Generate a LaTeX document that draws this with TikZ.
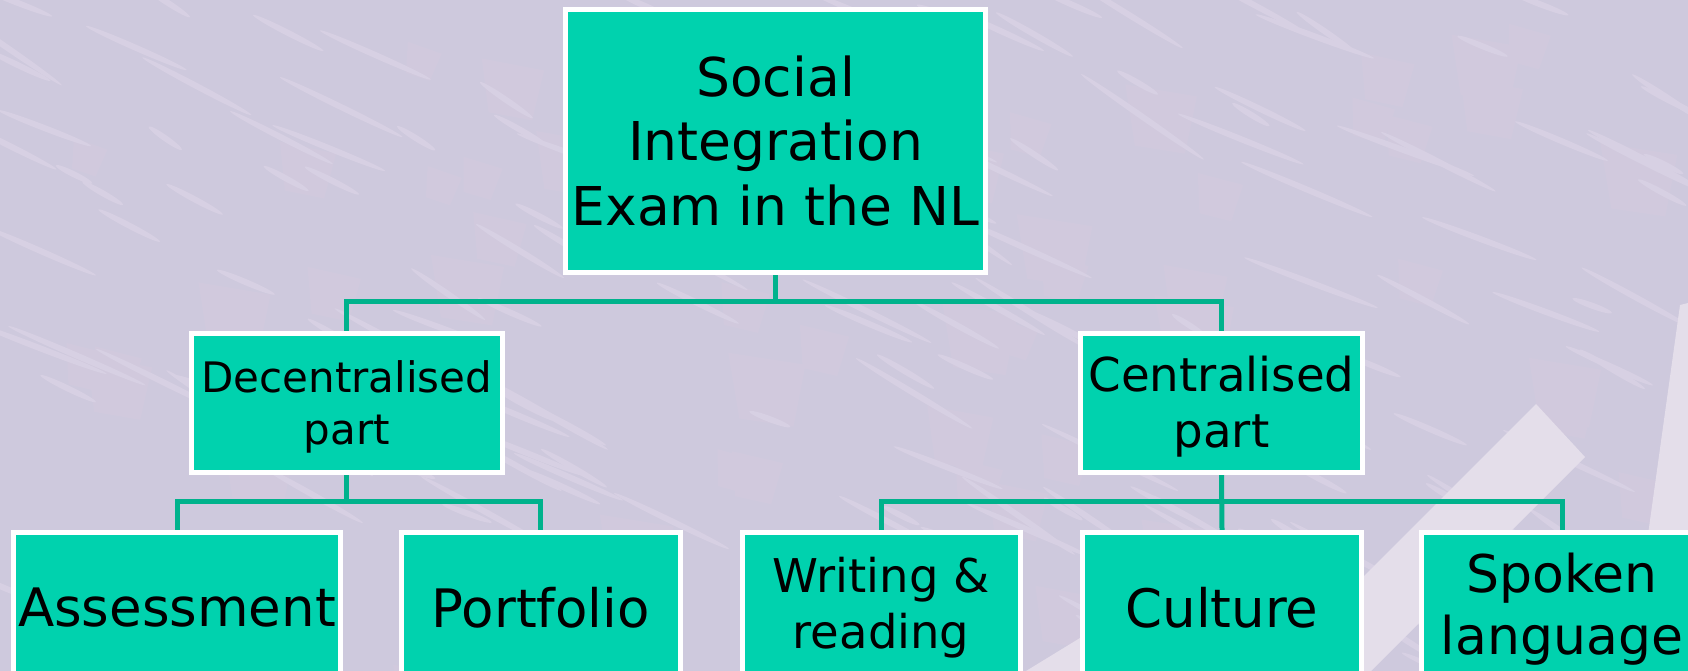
\documentclass[tikz,border=0pt]{standalone}
\usepackage{fontspec}
\setmainfont{DejaVu Sans}
\definecolor{bgcol}{RGB}{206,201,221}
\definecolor{patchcol}{RGB}{209,201,221}
\definecolor{streakcol}{RGB}{215,208,227}
\definecolor{boxfill}{RGB}{0,210,174}
\definecolor{linecol}{RGB}{0,178,140}
\definecolor{lightband}{RGB}{228,222,234}
\pgfdeclarelayer{bg}
\pgfdeclarelayer{edges}
\pgfsetlayers{bg,edges,main}
\tikzset{
  box/.style={rectangle, draw=white, line width=5pt, fill=boxfill, text=black, align=center, inner sep=0pt},
  conn/.style={draw=linecol, line width=5pt, line join=miter},
  streak/.style={fill=streakcol},
  patch/.style={fill=patchcol},
}
\begin{document}
\begin{tikzpicture}[x=1pt,y=-1pt]
\useasboundingbox (0,0) rectangle (1688,671);
\clip (0,0) rectangle (1688,671);
\begin{pgfonlayer}{bg}
  \fill[bgcol] (0,0) rectangle (1688,671);
  \pgfmathsetseed{5}
  \foreach \i in {1,...,60}{
    \pgfmathsetmacro\xx{rnd*1688}
    \pgfmathsetmacro\yy{rnd*671}
    \pgfmathsetmacro\ww{30+rnd*50}
    \fill[patch] (\xx,\yy) -- ++(\ww,12) -- ++(-12,\ww*0.8) -- ++(-\ww*0.7,-8) -- cycle;
  }
  \pgfmathsetseed{11}
  \foreach \i in {1,...,170}{
    \pgfmathsetmacro\xx{rnd*1688}
    \pgfmathsetmacro\yy{rnd*671}
    \pgfmathsetmacro\ll{20+rnd*60}
    \pgfmathsetmacro\aa{-20-rnd*15}
    \fill[streak, rotate around={\aa:(\xx,\yy)}] (\xx,\yy) ellipse [x radius=\ll, y radius=3];
  }
  \fill[lightband] (1536,404) -- (1585,457) -- (1285,757) -- (1236,704) -- cycle;
  \fill[lightband] (1680,305) -- (1688,303) -- (1688,671) -- (1629,671) -- cycle;
  \fill[lightband] (1026,671) -- (1080,638) -- (1080,671) -- cycle;
\end{pgfonlayer}

\node[box, minimum width=420pt, minimum height=263pt, font=\fontsize{53.5}{64.5}\selectfont] (top) at (775.5,141) {Social\\Integration\\Exam in the NL};

\node[box, minimum width=310.5pt, minimum height=139.5pt, font=\fontsize{42}{51.7}\selectfont] (dec) at (346.75,402.75) {\rule{0pt}{40pt}Decentralised\\part};
\node[box, minimum width=282pt, minimum height=139.5pt, font=\fontsize{46.7}{55.6}\selectfont] (cen) at (1221.5,402.75) {\rule{0pt}{43.5pt}Centralised\\part};

\node[box, minimum width=327.6pt, minimum height=150pt, font=\fontsize{53}{63.6}\selectfont] (ass) at (177,607.5) {Assessment};
\node[box, minimum width=278.5pt, minimum height=150pt, font=\fontsize{53}{63.6}\selectfont] (por) at (540.75,607.5) {Portfolio};
\node[box, minimum width=278pt, minimum height=150pt, font=\fontsize{46.5}{56.6}\selectfont] (wri) at (881.1,607.5) {Writing \&\\reading};
\node[box, minimum width=279pt, minimum height=150pt, font=\fontsize{53}{63.6}\selectfont] (cul) at (1222,607.5) {Culture};
\node[box, minimum width=281pt, minimum height=150pt, font=\fontsize{52}{62}\selectfont] (spo) at (1562,607.5) {\rule{0pt}{42pt}Spoken\\language};

\coordinate (h1) at (0,301);
\coordinate (h2) at (0,501.6);
\begin{pgfonlayer}{edges}
  \draw[conn] (top.south) -- (top.south |- h1);
  \draw[conn] (dec.north) -- (dec.north |- h1) -- (cen.north |- h1) -- (cen.north);
  \draw[conn] (dec.south) -- (dec.south |- h2);
  \draw[conn] (ass.north) -- (ass.north |- h2) -- (por.north |- h2) -- (por.north);
  \draw[conn] (cen.south) -- (cul.north);
  \draw[conn] (wri.north) -- (wri.north |- h2) -- (spo.north |- h2) -- (spo.north);
\end{pgfonlayer}
\end{tikzpicture}
\end{document}
